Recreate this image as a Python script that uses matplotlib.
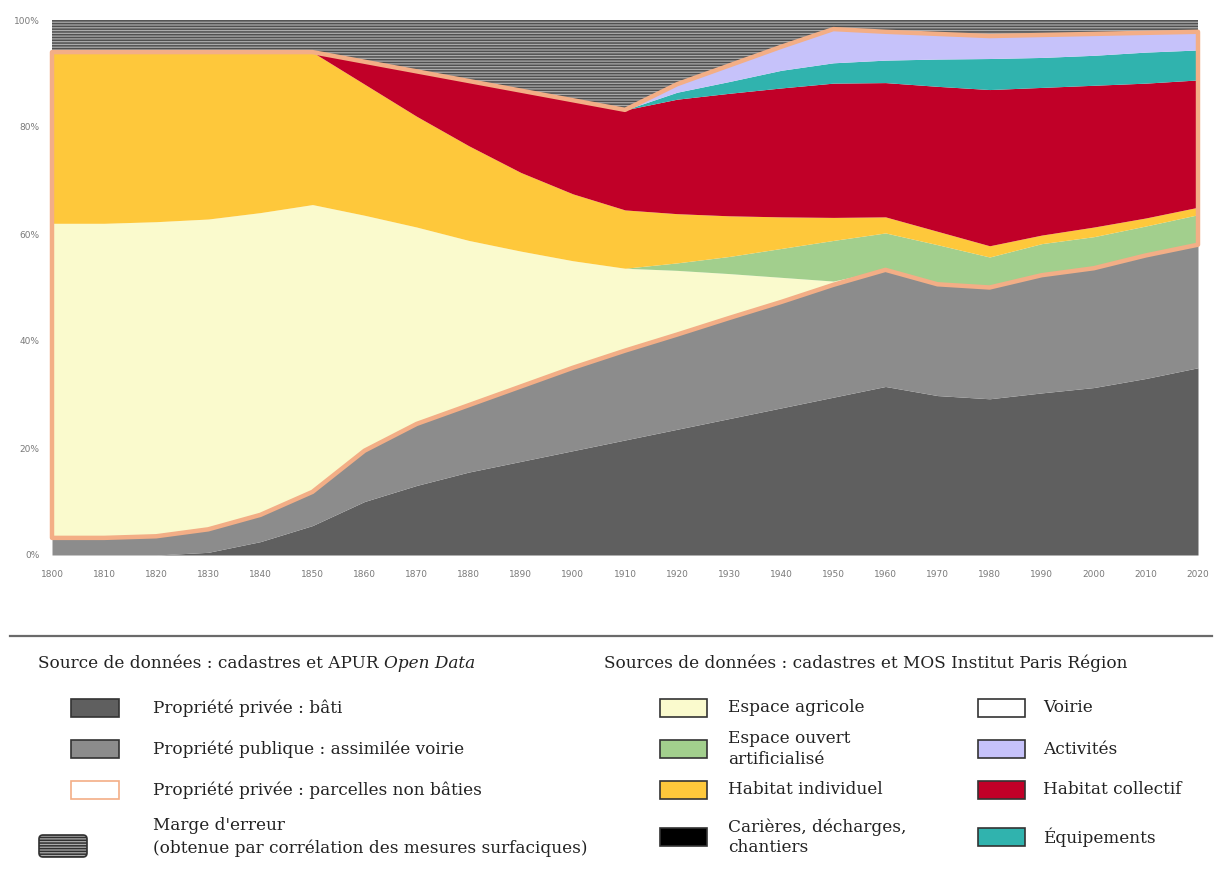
import numpy as np
import matplotlib
matplotlib.use("Agg")
import matplotlib.pyplot as plt
from matplotlib.patches import Rectangle, FancyBboxPatch, Polygon

years = np.arange(1800, 2021, 10)

# limites hautes cumulées (%) de chaque couche
top_bati = [0, 0, 0, 0.5, 2.5, 5.5, 10, 13, 15.5, 17.5, 19.5, 21.5, 23.5, 25.5,
            27.5, 29.5, 31.5, 29.8, 29.2, 30.3, 31.3, 33, 35]
top_publique = [3.2, 3.2, 3.5, 4.8, 7.5, 11.8, 19.5, 24.5, 28, 31.5, 35, 38.2,
                41.2, 44.3, 47.3, 50.5, 53.3, 50.6, 50, 52.3, 53.6, 56, 58]
top_agricole = [62, 62, 62.3, 62.8, 64, 65.5, 63.5, 61.3, 58.8, 56.8, 55, 53.6,
                53.2, 52.6, 51.9, 51.2, 53.3, 50.6, 50, 52.3, 53.6, 56, 58]
top_ouvert = [62, 62, 62.3, 62.8, 64, 65.5, 63.5, 61.3, 58.8, 56.8, 55, 53.6,
              54.6, 55.8, 57.3, 58.8, 60.2, 58, 55.7, 58.2, 59.5, 61.5, 63.6]
top_individuel = [94, 94, 94, 94, 94, 94, 88, 82, 76.5, 71.5, 67.5, 64.5,
                  63.8, 63.4, 63.2, 63.1, 63.2, 60.5, 57.8, 59.8, 61.3, 63, 65]
top_collectif = [94, 94, 94, 94, 94, 94, 92.2, 90.4, 88.6, 86.8, 85, 83.2,
                 85.2, 86.3, 87.3, 88.2, 88.3, 87.6, 87, 87.4, 87.8, 88.2, 88.8]
top_equipements = [94, 94, 94, 94, 94, 94, 92.2, 90.4, 88.6, 86.8, 85, 83.2,
                   86.5, 88.5, 90.6, 92, 92.5, 92.7, 92.8, 93, 93.4, 94, 94.4]
top_activites = [94, 94, 94, 94, 94, 94, 92.2, 90.4, 88.6, 86.8, 85, 83.2,
                 88, 91.5, 95, 98.3, 97.8, 97.4, 97, 97.2, 97.4, 97.6, 97.8]

y_ticks = [0, 20, 40, 60, 80, 100]
y_labels = ["0%", "20%", "40%", "60%", "80%", "100%"]

layers = [
    (None, top_bati, "#5f5f5f"),
    (top_bati, top_publique, "#8c8c8c"),
    (top_publique, top_agricole, "#fafacd"),
    (top_agricole, top_ouvert, "#a2cf8d"),
    (top_ouvert, top_individuel, "#fec83b"),
    (top_individuel, top_collectif, "#c10028"),
    (top_collectif, top_equipements, "#30b3ae"),
    (top_equipements, top_activites, "#c6c2fa"),
]

legend_left = [
    ("Propriété privée : bâti", "#5f5f5f", "#333333"),
    ("Propriété publique : assimilée voirie", "#8c8c8c", "#333333"),
    ("Propriété privée : parcelles non bâties", "white", "#f3ae86"),
]
legend_mid = [
    ("Espace agricole", "#fafacd"),
    ("Espace ouvert\nartificialisé", "#a2cf8d"),
    ("Habitat individuel", "#fec83b"),
    ("Carières, décharges,\nchantiers", "#000000"),
]
legend_right = [
    ("Voirie", "white"),
    ("Activités", "#c6c2fa"),
    ("Habitat collectif", "#c10028"),
    ("Équipements", "#30b3ae"),
]

ORANGE = "#f3ae86"
SERIF = "DejaVu Serif"
TXT = "#222222"


def main():
    plt.rcParams["hatch.linewidth"] = 1.1
    W, H = 1219, 874
    fig = plt.figure(figsize=(W / 100, H / 100), dpi=100)

    ax = fig.add_axes([52 / W, 1 - 555 / H, (1198 - 52) / W, (555 - 20) / H])
    for low, high, col in layers:
        lo = np.zeros(len(years)) if low is None else low
        ax.fill_between(years, lo, high, color=col, linewidth=0)

    # marge d'erreur (hachures)
    ax.fill_between(years, top_activites, 100, facecolor="#ababab",
                    edgecolor="#505050", hatch="------", linewidth=0)

    # contour des parcelles privées non bâties
    xs = np.concatenate([years, years[::-1]])
    ys = np.concatenate([top_publique, top_activites[::-1]])
    ax.add_patch(Polygon(np.column_stack([xs, ys]), closed=True, fill=False,
                         edgecolor=ORANGE, linewidth=3.2, joinstyle="round",
                         clip_on=False))

    ax.set_xlim(1800, 2020)
    ax.set_ylim(0, 100)
    ax.set_xticks(years)
    ax.set_yticks(y_ticks)
    ax.set_yticklabels(y_labels)
    for s in ax.spines.values():
        s.set_visible(False)
    ax.tick_params(length=0, labelsize=6.5, labelcolor="#7a7a7a")
    ax.tick_params(axis="x", pad=11)
    ax.tick_params(axis="y", pad=9)

    # zone de légende en coordonnées pixel
    lg = fig.add_axes([0, 0, 1, 1])
    lg.set_xlim(0, W)
    lg.set_ylim(H, 0)
    lg.axis("off")
    lg.patch.set_alpha(0)

    lg.plot([10, 1212], [636, 636], color="#6a6a6a", linewidth=1.6)

    fs = 12.2

    t = lg.text(38, 663, "Source de données : cadastres et APUR ", fontsize=fs,
                family=SERIF, va="center", color=TXT)
    fig.canvas.draw()
    bb = t.get_window_extent().transformed(lg.transData.inverted())
    lg.text(bb.x1, 663, "Open Data", fontsize=fs, family=SERIF,
            style="italic", va="center", color=TXT)
    lg.text(604, 663, "Sources de données : cadastres et MOS Institut Paris Région",
            fontsize=fs, family=SERIF, va="center", color=TXT)

    row_y = [708, 749, 790, 837]
    for (lab, fc, ec), yy in zip(legend_left, row_y):
        lg.add_patch(Rectangle((71, yy - 9), 48, 18, facecolor=fc, edgecolor=ec,
                               linewidth=1.2))
        lg.text(153, yy, lab, fontsize=fs, family=SERIF, va="center",
                color=TXT)

    lg.add_patch(FancyBboxPatch((39, 835), 48, 22,
                                boxstyle="round,pad=0,rounding_size=4",
                                facecolor="#ababab", edgecolor="#303030",
                                hatch="------", linewidth=1.2))
    lg.text(153, 826, "Marge d'erreur", fontsize=fs, family=SERIF,
            va="center", color=TXT)
    lg.text(153, 848, "(obtenue par corrélation des mesures surfaciques)",
            fontsize=fs, family=SERIF, va="center", color=TXT)

    for (lab, fc), yy in zip(legend_mid, row_y):
        lg.add_patch(Rectangle((660, yy - 9), 47, 18, facecolor=fc,
                               edgecolor="#333333", linewidth=1.2))
        lg.text(728, yy, lab, fontsize=fs, family=SERIF, va="center",
                linespacing=1.25, color=TXT)

    for (lab, fc), yy in zip(legend_right, row_y):
        lg.add_patch(Rectangle((978, yy - 9), 47, 18, facecolor=fc,
                               edgecolor="#333333", linewidth=1.2))
        lg.text(1043, yy, lab, fontsize=fs, family=SERIF, va="center",
                color=TXT)

    fig.savefig("out.png", dpi=100)


if __name__ == "__main__":
    main()
